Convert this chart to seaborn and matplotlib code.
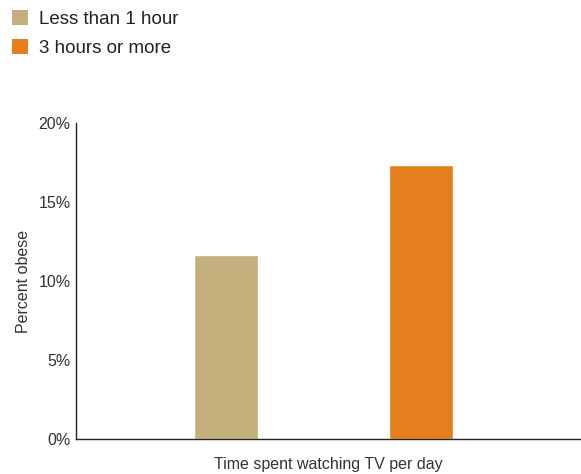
import matplotlib
matplotlib.use("Agg")
import matplotlib.pyplot as plt
import seaborn as sns
import pandas as pd
from matplotlib.patches import Patch
from matplotlib.ticker import FuncFormatter

categories = ["Less than 1 hour", "3 hours or more"]
percent_obese = [11.65, 17.35]
colors = ["#C2AF7B", "#E57F1E"]
y_ticks = [0, 5, 10, 15, 20]

df = pd.DataFrame({"category": categories, "value": percent_obese})

sns.set_style("white")
plt.rcParams["font.family"] = ["Liberation Sans", "DejaVu Sans"]

fig = plt.figure(figsize=(5.81, 4.74), dpi=100)
ax = fig.add_axes([0.1308, 0.0738, 0.8675, 0.6667])

sns.barplot(data=df, x="category", y="value", hue="category",
            palette=colors, width=0.328, legend=False, ax=ax,
            saturation=1)

ax.set_xlim(-0.769, 1.815)
ax.set_ylim(0, 20)
ax.set_yticks(y_ticks)
ax.yaxis.set_major_formatter(FuncFormatter(lambda v, p: f"{int(v)}%"))
ax.set_xticks([])
ax.tick_params(axis="y", length=0, labelsize=11.5, labelcolor="#333333", pad=4)
for s in ["top", "right"]:
    ax.spines[s].set_visible(False)
for s in ["left", "bottom"]:
    ax.spines[s].set_color("#222222")
    ax.spines[s].set_linewidth(1.0)

ax.set_xlabel("Time spent watching TV per day", fontsize=11.5, color="#333333", labelpad=13)
ax.set_ylabel("Percent obese", fontsize=11.5, color="#333333", labelpad=5)

handles = [Patch(facecolor=c, edgecolor="none", label=l) for c, l in zip(colors, categories)]
fig.legend(handles=handles, loc="upper left", bbox_to_anchor=(-0.002, 1.006),
           frameon=False, fontsize=13.5, handlelength=0.85, handleheight=0.85,
           handletextpad=0.6, labelspacing=0.55, borderaxespad=0.3,
           labelcolor="#222222")

fig.savefig("out.png", dpi=100)
